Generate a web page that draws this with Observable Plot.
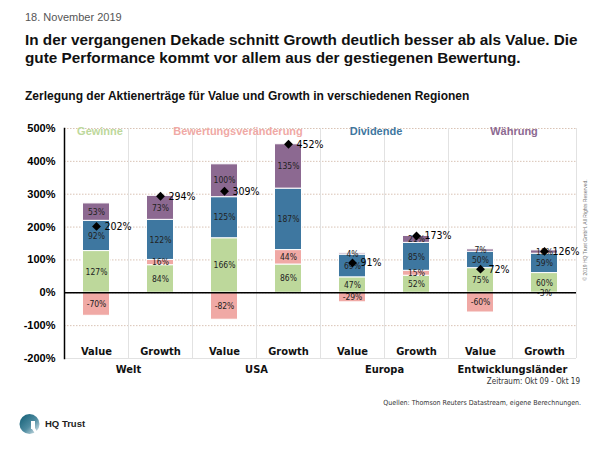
<!DOCTYPE html>
<html>
<head>
<meta charset="utf-8">
<script src="https://cdn.jsdelivr.net/npm/d3@7"></script>
<script src="https://cdn.jsdelivr.net/npm/@observablehq/plot@0.6"></script>
<style>
  html, body { margin: 0; padding: 0; background: #fff; }
  #page { position: relative; width: 600px; height: 450px; overflow: hidden; font-family: "Liberation Sans", Arial, sans-serif; color: #111; }
  .abs { position: absolute; white-space: nowrap; }
  #chart { position: absolute; left: 0; top: 110px; }
  .cond { font-family: "Liberation Sans Narrow", "DejaVu Sans Condensed", "Liberation Sans", sans-serif; }
</style>
</head>
<body>
<div id="page">
  <div class="abs" style="left:25px; top:11px; font-size:11px; color:#555;">18. November 2019</div>
  <div class="abs" style="left:25px; top:31px; font-size:15.3px; font-weight:bold; line-height:18px;">In der vergangenen Dekade schnitt Growth deutlich besser ab als Value. Die<br>gute Performance kommt vor allem aus der gestiegenen Bewertung.</div>
  <div class="abs" style="left:25px; top:89px; font-size:12px; font-weight:bold;">Zerlegung der Aktienerträge für Value und Growth in verschiedenen Regionen</div>
  <div id="chart"></div>
  <div id="legend"></div>
  <div class="abs cond" style="right:20px; top:377px; font-size:8px; color:#333;">Zeitraum: Okt 09 - Okt 19</div>
  <div class="abs cond" style="right:19px; top:399px; font-size:7px; color:#333;">Quellen: Thomson Reuters Datastream, eigene Berechnungen.</div>
  <div class="abs" style="left:585px; top:230px; font-size:5px; color:#777; transform: translate(-50%,-50%) rotate(-90deg);">© 2019 HQ Trust GmbH. All Rights Reserved.</div>
  <svg class="abs" style="left:19px; top:413px;" width="22" height="24" viewBox="0 0 22 24">
    <defs>
      <linearGradient id="lg" x1="0" y1="0" x2="1" y2="1">
        <stop offset="0" stop-color="#0d5a72"/>
        <stop offset="0.55" stop-color="#4f8ca1"/>
        <stop offset="1" stop-color="#eef3f5"/>
      </linearGradient>
    </defs>
    <circle cx="10.5" cy="11" r="10" fill="url(#lg)"/>
    <path d="M12 8 L16 8 L16 15 L20 22 L17 22 L13 16 L12 16 Z" fill="#fff"/>
  </svg>
  <div class="abs" style="left:45px; top:418px; font-size:9.5px; font-weight:bold; color:#222;">HQ Trust</div>
</div>
<script>
// ---- Data ----
const regions = ["Welt", "USA", "Europa", "Entwicklungsländer"];
const styles = ["Value", "Growth"];
const components = ["Gewinne", "Bewertungsveränderung", "Dividende", "Währung"];
const componentColors = ["#bdd89b", "#f0a9a5", "#3e77a0", "#8c6991"];
// order: Welt V, Welt G, USA V, USA G, Europa V, Europa G, EM V, EM G
const gewinne   = [127, 84, 166, 86, 47, 52, 75, 60];
const bewertung = [-70, 16, -82, 44, -29, 15, -60, -3];
const dividende = [92, 122, 125, 187, 69, 85, 50, 59];
const waehrung  = [53, 73, 100, 135, 4, 21, 7, 10];
const gesamt    = [202, 294, 309, 452, 91, 173, 72, 126];
const yTicks = [-200, -100, 0, 100, 200, 300, 400, 500];

// ---- Build tables ----
const keys = [];
regions.forEach(r => styles.forEach(s => keys.push(r + "|" + s)));
const series = [gewinne, bewertung, dividende, waehrung];
const rows = [];
keys.forEach((k, i) => {
  components.forEach((c, j) => rows.push({key: k, component: c, value: series[j][i]}));
});
const totals = keys.map((k, i) => ({key: k, total: gesamt[i]}));
const regionRows = regions.map(r => ({key: r + "|Value", region: r}));

const W = 600, H = 290, ML = 64, MR = 24, MT = 18, MB = 42;
const step = (W - ML - MR) / keys.length;
const cond = "'Liberation Sans Narrow', 'DejaVu Sans Condensed', 'Liberation Sans', sans-serif";

const chart = Plot.plot({
  width: W, height: H,
  marginLeft: ML, marginRight: MR, marginTop: MT, marginBottom: MB,
  style: {fontFamily: "'Liberation Sans', Arial, sans-serif", background: "transparent"},
  x: {type: "band", domain: keys, padding: 0, axis: null},
  y: {domain: [-200, 500], ticks: yTicks},
  color: {domain: components, range: componentColors},
  marks: [
    Plot.gridY(yTicks.filter(t => t > -200), {stroke: "#d9c3b5", strokeOpacity: 1, strokeDasharray: "1.5,1.5"}),
    Plot.ruleY([-200], {stroke: "#e2e2e2"}),
    Plot.ruleX(keys, {x: d => d, dx: -step / 2, stroke: "#e2e2e2"}),
    Plot.ruleX(keys.slice(-1), {x: d => d, dx: step / 2, stroke: "#e2e2e2"}),
    Plot.barY(rows, {x: "key", y: "value", fill: "component", insetLeft: 18.5, insetRight: 18.5, stroke: "#fff", strokeWidth: 1}),
    Plot.text(rows, Plot.stackY({x: "key", y: "value", z: "component", text: d => d.value + "%", fontSize: 8.5, fill: "#222", fontFamily: cond})),
    Plot.ruleY([0], {stroke: "#000", strokeWidth: 1.5}),
    Plot.frame({anchor: "left", stroke: "#000", strokeWidth: 1.5}),
    Plot.axisY({ticks: yTicks, tickSize: 0, tickPadding: 9, tickFormat: d => d + "%", fontWeight: "bold", fontSize: 11, fill: "#000"}),
    Plot.dot(totals, {x: "key", y: "total", symbol: "diamond2", fill: "#000", stroke: "none", r: 4}),
    Plot.text(totals, {x: "key", y: "total", text: d => d.total + "%", dx: 8, textAnchor: "start", fontSize: 10.5, fill: "#000", fontFamily: cond}),
    Plot.text(keys, {x: d => d, y: () => -200, text: d => d.split("|")[1], dy: -7, fontSize: 11, fontWeight: "bold", fill: "#111", fontFamily: cond}),
    Plot.text(regionRows, {x: "key", y: () => -200, text: "region", dx: step / 2, dy: 11, fontSize: 11, fontWeight: "bold", fill: "#111", fontFamily: cond})
  ]
});
document.getElementById("chart").appendChild(chart);

// legend (inline, coloured words)
const legendX = [100, 238, 376, 514];
const legend = document.getElementById("legend");
components.forEach((c, i) => {
  const el = document.createElement("div");
  el.className = "abs";
  el.style.cssText = `left:${legendX[i]}px; top:125px; transform:translateX(-50%); font-size:11px; font-weight:bold; color:${componentColors[i]};`;
  el.textContent = c;
  legend.appendChild(el);
});
</script>
</body>
</html>
